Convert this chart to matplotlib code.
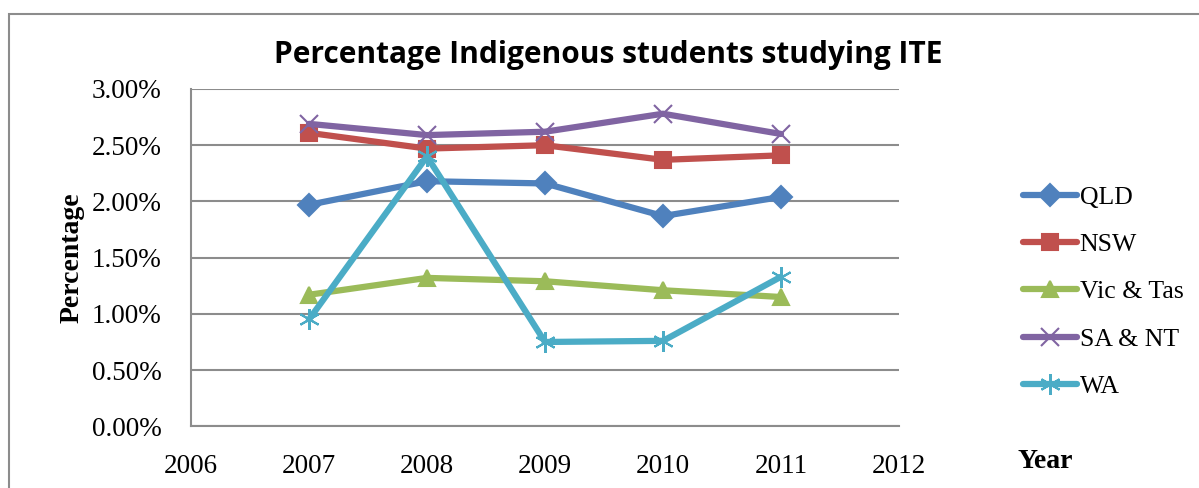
import matplotlib.pyplot as plt
from matplotlib.patches import Rectangle
from matplotlib.ticker import FuncFormatter

# Data (percent)
years = [2007, 2008, 2009, 2010, 2011]
qld = [1.97, 2.18, 2.16, 1.87, 2.04]
nsw = [2.61, 2.47, 2.50, 2.37, 2.41]
vic_tas = [1.17, 1.32, 1.29, 1.21, 1.15]
sa_nt = [2.69, 2.59, 2.62, 2.78, 2.60]
wa = [0.95, 2.40, 0.75, 0.76, 1.33]

series = [
    ('QLD', qld, '#4F81BD', 'D', 11),
    ('NSW', nsw, '#C0504D', 's', 12),
    ('Vic & Tas', vic_tas, '#9BBB59', '^', 12),
    ('SA & NT', sa_nt, '#8064A2', 'x', 13),
    ('WA', wa, '#4BACC6', (6, 2, 0), 15),
]

serif = 'Liberation Serif'

fig = plt.figure(figsize=(11.99, 4.88), dpi=100)
ax = fig.add_axes([191 / 1199, 1 - 426.3 / 488, (899 - 191) / 1199, (426.3 - 89) / 488])

for name, vals, c, m, ms in series:
    ax.plot(years, vals, color=c, lw=4.5, marker=m, markersize=ms,
            markeredgewidth=1.5, markeredgecolor=c, label=name,
            solid_capstyle='round')

ax.set_xlim(2006, 2012)
ax.set_ylim(0, 3.0)
ax.set_xticks(range(2006, 2013))
ax.set_yticks([0, 0.5, 1.0, 1.5, 2.0, 2.5, 3.0])
ax.yaxis.set_major_formatter(FuncFormatter(lambda v, p: '%.2f%%' % v))
ax.grid(axis='y', color='#8c8c8c', lw=1.5)
ax.set_axisbelow(True)
for s in ['top', 'right']:
    ax.spines[s].set_visible(False)
for s in ['left', 'bottom']:
    ax.spines[s].set_color('#8c8c8c')
    ax.spines[s].set_linewidth(1.5)
ax.tick_params(length=0, labelsize=19.5, pad=20)
ax.tick_params(axis='y', pad=21)
for lab in ax.get_xticklabels() + ax.get_yticklabels():
    lab.set_fontfamily(serif)

fig.text(72 / 1199, 1 - 258 / 488, 'Percentage', fontsize=20, fontweight='bold',
         family=serif, rotation=90, ha='center', va='center')
fig.text(1045 / 1199, 1 - 461 / 488, 'Year', fontsize=20, fontweight='bold',
         family=serif, ha='center', va='center')
fig.text(608 / 1199, 1 - 55 / 488, 'Percentage Indigenous students studying ITE',
         fontsize=21.5, fontweight='bold', family='Open Sans', ha='center', va='center')

leg = fig.legend(loc='upper left', bbox_to_anchor=(1000 / 1199, 1 - 163 / 488),
                 frameon=False, prop={'family': serif, 'size': 18.5},
                 handlelength=2.1, handletextpad=0.1, labelspacing=0.94)

fig.patches.append(Rectangle((8.5 / 1199, -0.1), 1.2, 1 - 14.5 / 488 + 0.1,
                             transform=fig.transFigure, fill=False,
                             edgecolor='#8c8c8c', lw=1.5))

fig.savefig('out.png', dpi=100)
